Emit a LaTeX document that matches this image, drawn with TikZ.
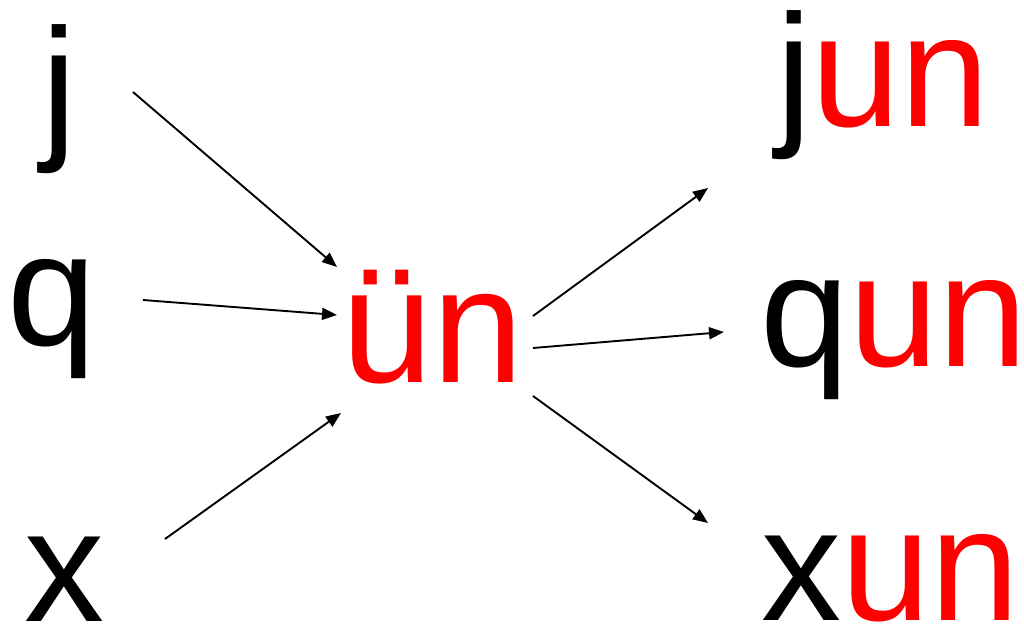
\documentclass[tikz,border=0pt]{standalone}
\usepackage{fontspec}
\setmainfont{Liberation Sans}
\usetikzlibrary{arrows.meta}
\begin{document}
\begin{tikzpicture}[x=1pt,y=-1pt,
  letter/.style={inner sep=0pt, anchor=base west, font=\fontsize{160}{176}\selectfont},
  conn/.style={line width=1.9pt, -{Triangle[length=15pt,width=12pt]}}]
\useasboundingbox (0,0) rectangle (1024,626);
% left column
\node[letter] (j) at (41,140) {j};
\node[letter] (q) at (7,345) {q};
\node[letter] (x) at (24,621) {x};
% centre
\node[letter, text=red, font=\fontsize{164}{180}\selectfont] (un) at (341,382) {ün};
% right column
\node[letter] (jun) at (776,126) {j\textcolor{red}{un}};
\node[letter] (qun) at (760,366) {q\textcolor{red}{un}};
\node[letter] (xun) at (761,620) {x\textcolor{red}{un}};
% connector ends
\coordinate (js) at (133,92);  \coordinate (jt) at (337,267);
\coordinate (qs) at (143,300); \coordinate (qt) at (337,315);
\coordinate (xs) at (165,539); \coordinate (xt) at (341,413);
\coordinate (o1) at (533,316); \coordinate (t1) at (708,188);
\coordinate (o2) at (533,348); \coordinate (t2) at (724,332);
\coordinate (o3) at (533,396); \coordinate (t3) at (708,523);
\draw[conn] (js) -- (jt);
\draw[conn] (qs) -- (qt);
\draw[conn] (xs) -- (xt);
\draw[conn] (o1) -- (t1);
\draw[conn] (o2) -- (t2);
\draw[conn] (o3) -- (t3);
\end{tikzpicture}
\end{document}
